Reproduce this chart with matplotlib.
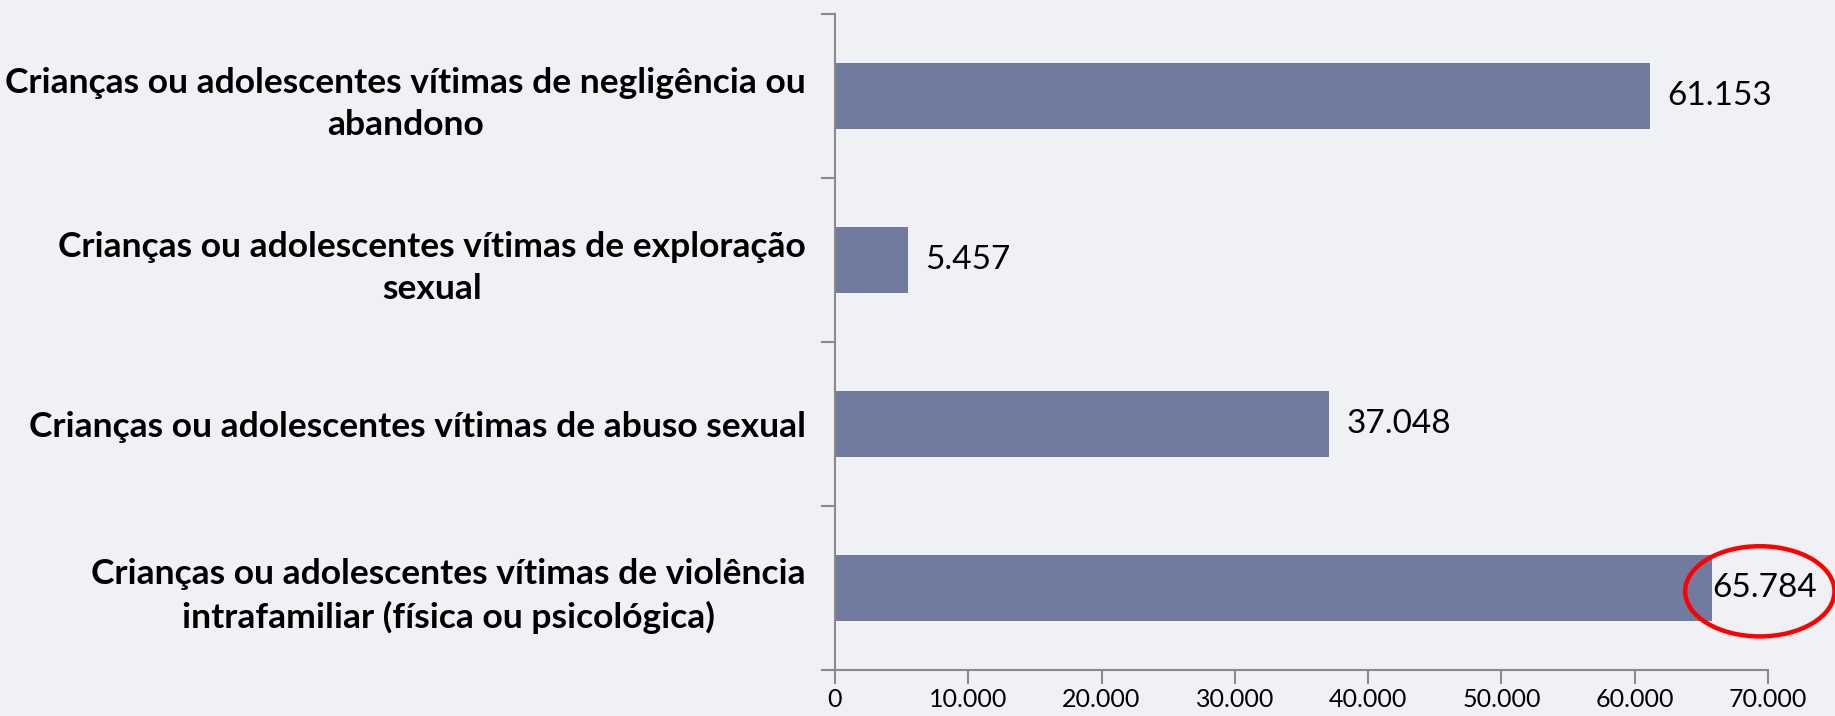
import matplotlib.pyplot as plt
from matplotlib.patches import Ellipse
from matplotlib.ticker import FuncFormatter

categories = [
    "Crianças ou adolescentes vítimas de negligência ou\nabandono",
    "Crianças ou adolescentes vítimas de exploração\nsexual",
    "Crianças ou adolescentes vítimas de abuso sexual",
    "Crianças ou adolescentes vítimas de violência\nintrafamiliar (física ou psicológica)",
]
values = [61153, 5457, 37048, 65784]
value_labels = ["61.153", "5.457", "37.048", "65.784"]
x_ticks = [0, 10000, 20000, 30000, 40000, 50000, 60000, 70000]

bg = "#F0F1F5"
bar_color = "#717BA0"
axis_color = "#8A8A8A"
plt.rcParams["font.family"] = ["Lato", "DejaVu Sans"]

fig = plt.figure(figsize=(18.35, 7.16), dpi=100, facecolor=bg)
ax = fig.add_axes([0.455, 0.0642, 0.5085, 0.9162])
ax.set_facecolor(bg)

pos = list(range(len(values)))
ax.barh(pos, values, height=0.4, color=bar_color)

# value labels right of the bars (last one sits on the bar edge)
for i, (v, lab) in enumerate(zip(values, value_labels)):
    off = 0 if i == 3 else 1300
    ax.text(v + off, i, lab, va="center", ha="left", fontsize=24, color="black")

# red highlight round the last label
ax.add_patch(Ellipse((values[3] + 3600, pos[3] + 0.02), 11200, 0.55, fill=False,
                     edgecolor="#FF0000", linewidth=3.2, clip_on=False))

ax.set_xlim(0, 70000)
ax.set_ylim(3.5, -0.5)
ax.set_xticks(x_ticks)
ax.xaxis.set_major_formatter(FuncFormatter(lambda x, p: f"{int(x):,}".replace(",", ".")))

# category boundaries carry the tick marks, centres carry the labels
ax.set_yticks([p - 0.5 for p in pos] + [pos[-1] + 0.5])
ax.set_yticklabels([])
ax.set_yticks(pos, minor=True)
ax.set_yticklabels(categories, minor=True, fontsize=25.5, fontweight="bold",
                   multialignment="center", linespacing=1.4)
ax.tick_params(axis="y", which="minor", length=0, pad=21)
ax.tick_params(axis="y", which="major", length=10, width=1.5, color=axis_color, direction="out")
ax.tick_params(axis="x", length=10, width=1.5, color=axis_color, labelsize=18, pad=3)

for s in ["top", "right"]:
    ax.spines[s].set_visible(False)
for s in ["left", "bottom"]:
    ax.spines[s].set_color(axis_color)
    ax.spines[s].set_linewidth(1.5)

fig.savefig("out.png", dpi=100, facecolor=bg)
